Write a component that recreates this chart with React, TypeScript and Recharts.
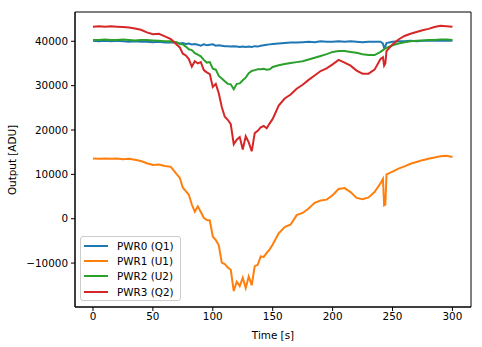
import React from "react";
import { LineChart, Line, XAxis, YAxis, Label, ReferenceArea } from "recharts";

const times = [
  0, 5, 10, 15, 20, 25, 30, 35, 40, 45, 50, 55, 60, 65,
  70, 72.5, 75, 77.5, 80, 82.5, 85, 87.5, 90, 92.5, 95, 97.5, 100, 102.5, 105, 107.5, 110, 112.5,
  115, 117.5, 120, 122.5, 125, 127.5, 130, 132.5, 135, 137.5, 140, 142.5, 145, 147.5, 150,
  155, 160, 165, 170, 175, 180, 185, 190, 195, 200, 205, 210, 215, 220, 225, 230, 235, 240,
  242, 243, 244, 245,
  250, 255, 260, 265, 270, 275, 280, 285, 290, 295, 300,
];

const pwr0 = [
  40100, 40000, 40100, 40000, 40100, 40000, 39900, 40000, 39900, 39900, 39800, 39900, 39700, 39800,
  39600, 39500, 39600, 39400, 39500, 39300, 39400, 39200, 39000, 39300, 39100, 39200, 39300, 39000, 39100, 39000, 38900, 38900,
  38800, 38900, 38800, 38700, 38800, 38700, 38800, 38700, 38900, 38800, 39000, 39100, 39200, 39300, 39400,
  39500, 39600, 39700, 39700, 39800, 39900, 39800, 40000, 39900, 39900, 40000, 39900, 40000, 39900, 39800, 39900, 39900, 39900,
  39500, 38500, 38800, 39600,
  39900, 40000, 40000, 40100, 40000, 40100, 40100, 40200, 40100, 40200, 40100,
];

const pwr1 = [
  13600, 13500, 13600, 13500, 13600, 13400, 13500, 13300, 13000, 12500, 12100, 12200, 11900, 11700,
  10000, 9200, 7000, 6200, 5400, 3200, 1600, 2800, 1500, 200, -300, -400, -4000, -4800, -6000, -9900, -10200, -11000,
  -11500, -16300, -14200, -15200, -13300, -15600, -13000, -15000, -10700, -10400, -8500, -8600, -7700, -6900, -5800,
  -3300, -1900, -1300, 800, 1300, 2300, 3600, 4100, 4300, 5300, 6700, 6900, 6000, 4700, 4400, 4800, 6000, 8000,
  9000, 3000, 3200, 10000,
  10600, 11300, 11800, 12400, 12800, 13200, 13500, 13800, 14100, 14200, 13900,
];

const pwr2 = [
  40300, 40300, 40400, 40300, 40300, 40400, 40300, 40200, 40300, 40300, 40200, 40100, 40000, 40000,
  39800, 39400, 39300, 38800, 38200, 38000, 37300, 37000, 36600, 35800, 35200, 35300, 33800, 33600, 32200, 31600, 31000, 30400,
  30300, 29200, 30400, 30500, 31200, 31800, 32800, 33300, 33500, 33700, 33700, 33800, 33600, 33700, 34200,
  34600, 34900, 35100, 35300, 35500, 35900, 36300, 36700, 37100, 37600, 37800, 37800, 37600, 37400, 37100, 36900, 36900, 37600,
  38000, 38200, 38400, 38500,
  39100, 39500, 39800, 40000, 40100, 40200, 40300, 40300, 40400, 40400, 40300,
];

const pwr3 = [
  43300, 43400, 43300, 43400, 43300, 43200, 43100, 42900, 42600, 42000, 41600, 41700, 41100, 40500,
  39200, 38600, 37200, 36800, 36000, 34300, 35500, 35000, 35300, 33500, 33000, 32600, 29700, 30400, 28300, 25200, 23000, 22300,
  21300, 16800, 17800, 18400, 15600, 18600, 17200, 15200, 19300, 19800, 20600, 20900, 20400, 21500, 22500,
  25500, 27100, 28000, 29300, 30200, 31300, 32300, 33300, 33900, 34800, 35800, 35200, 34500, 33400, 32700, 32700, 33600, 36000,
  36400, 34500, 35000, 37800,
  39300, 40400, 41200, 41700, 42100, 42500, 42800, 43200, 43500, 43400, 43300,
];

const xTicks = [0, 50, 100, 150, 200, 250, 300];
const yTicks = [-10000, 0, 10000, 20000, 30000, 40000];
const xDomain = [-15, 315.5];
const yDomain = [-19900, 46600];

const seriesNames = ["PWR0 (Q1)", "PWR1 (U1)", "PWR2 (U2)", "PWR3 (Q2)"];
const seriesKeys = ["p0", "p1", "p2", "p3"];
const colors = ["#1f77b4", "#ff7f0e", "#2ca02c", "#d62728"];

const data = times.map((t, i) => ({ t, p0: pwr0[i], p1: pwr1[i], p2: pwr2[i], p3: pwr3[i] }));

const FONT = "'DejaVu Sans', sans-serif";
const fmt = (v: number) => String(v).replace("-", "\u2212");

const LegendBox = () => (
  <div
    style={{
      position: "absolute",
      left: 80,
      top: 236,
      width: 101,
      height: 65,
      border: "1px solid #cccccc",
      borderRadius: 3,
      background: "rgba(255,255,255,0.8)",
      padding: "1px 4px 2px 3px",
      fontFamily: FONT,
      fontSize: 10.4,
      color: "#000",
      boxSizing: "border-box",
    }}
  >
    {seriesNames.map((n, i) => (
      <div key={n} style={{ display: "flex", alignItems: "center", height: 15.4, whiteSpace: "nowrap" }}>
        <span style={{ display: "inline-block", width: 24, height: 2, background: colors[i], marginRight: 9, flexShrink: 0 }} />
        <span>{n}</span>
      </div>
    ))}
  </div>
);

export default function App() {
  return (
    <div style={{ position: "absolute", left: 0, top: 0, width: 482, height: 347, background: "#fff" }}>
      <LineChart width={482} height={347} data={data} margin={{ top: 12, right: 11, bottom: 0, left: 0 }}>
        <XAxis
          dataKey="t"
          type="number"
          domain={xDomain}
          ticks={xTicks}
          tickFormatter={fmt}
          height={40}
          stroke="#000"
          tickSize={4}
          tickMargin={2}
          tick={{ fill: "#000", fontSize: 10.4, fontFamily: FONT }}
          allowDataOverflow
        >
          <Label value="Time [s]" position="insideBottom" offset={8} style={{ fill: "#000", fontSize: 10.4, fontFamily: FONT }} />
        </XAxis>
        <YAxis
          type="number"
          domain={yDomain}
          ticks={yTicks}
          tickFormatter={fmt}
          width={75}
          stroke="#000"
          tickSize={4}
          tickMargin={3}
          tick={{ fill: "#000", fontSize: 10.4, fontFamily: FONT }}
          allowDataOverflow
        >
          <Label
            content={() => (
              <text x={12} y={160} transform="rotate(-90 12 160)" textAnchor="middle" dominantBaseline="central" style={{ fill: "#000", fontSize: 10.4, fontFamily: FONT }}>
                Output [ADU]
              </text>
            )}
          />
        </YAxis>
        <ReferenceArea x1={xDomain[0]} x2={xDomain[1]} y1={yDomain[0]} y2={yDomain[1]} fill="none" stroke="#000" strokeWidth={1} />
        {seriesKeys.map((k, i) => (
          <Line
            key={k}
            dataKey={k}
            name={seriesNames[i]}
            stroke={colors[i]}
            strokeWidth={2}
            dot={false}
            type="linear"
            isAnimationActive={false}
          />
        ))}
      </LineChart>
      <LegendBox />
    </div>
  );
}
